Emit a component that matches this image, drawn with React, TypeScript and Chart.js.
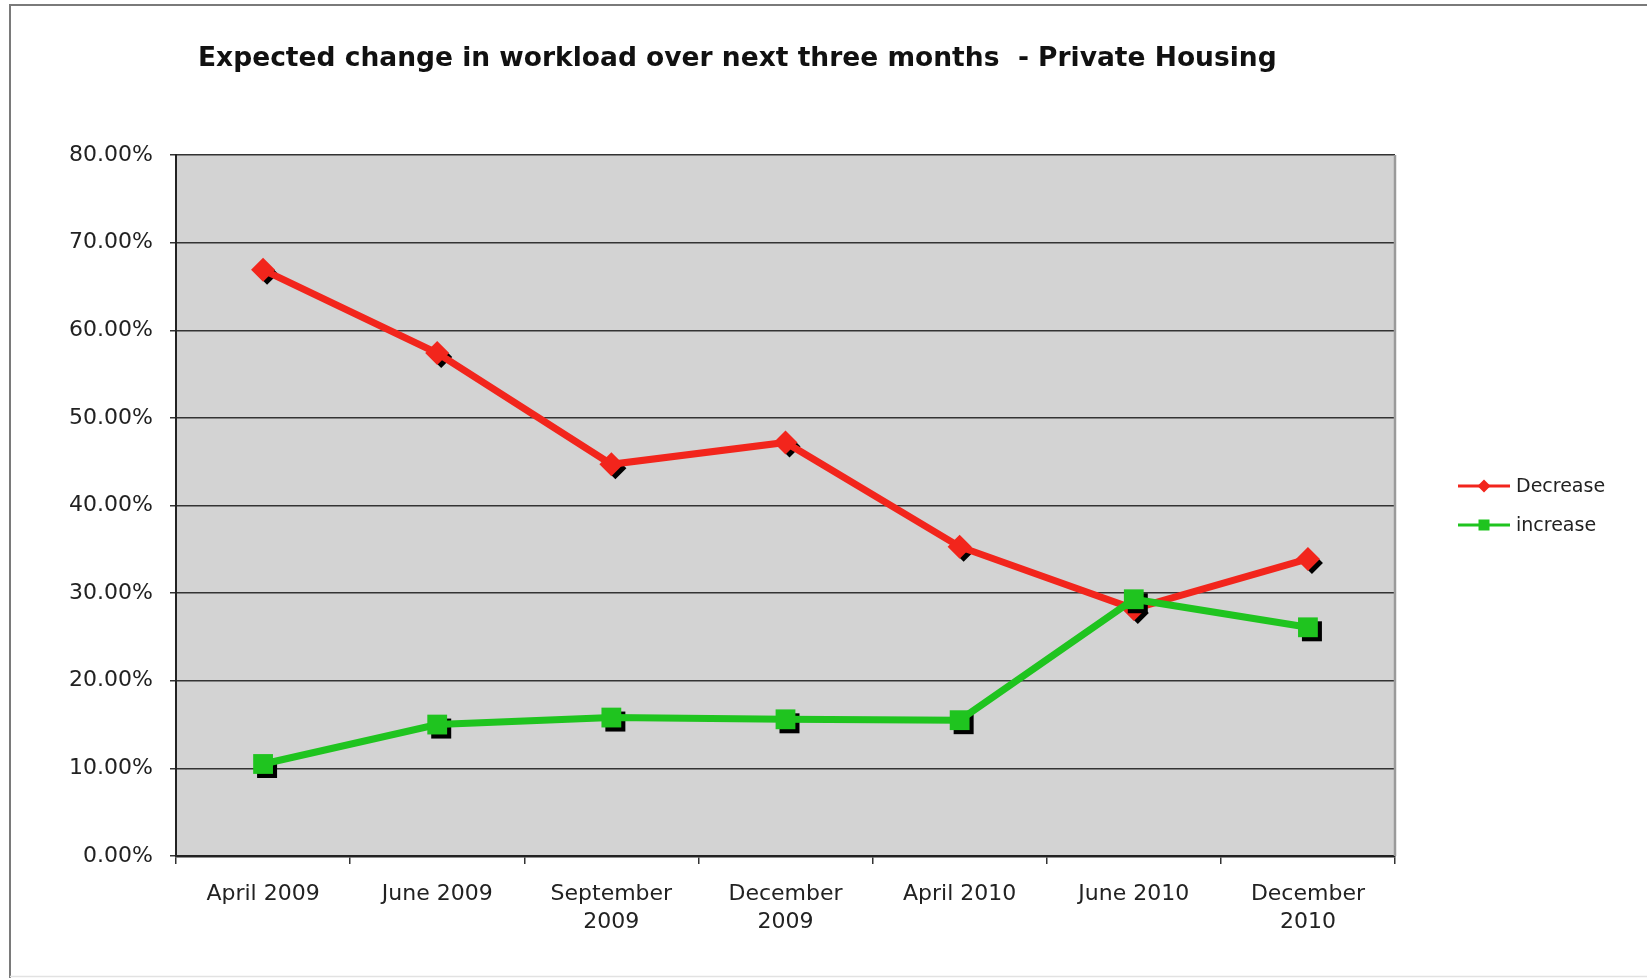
import React, { useEffect, useRef } from "react";
import { Chart, registerables } from "chart.js";

Chart.register(...registerables);

const TITLE = "Expected change in workload over next three months  - Private Housing";
const categories: (string | string[])[] = [
  "April 2009",
  "June 2009",
  ["September", "2009"],
  ["December", "2009"],
  "April 2010",
  "June 2010",
  ["December", "2010"],
];
const decreaseValues = [66.9, 57.4, 44.7, 47.2, 35.3, 28.2, 33.9];
const increaseValues = [10.5, 15.0, 15.8, 15.6, 15.5, 29.3, 26.1];
const yTickMin = 0;
const yTickMax = 80;
const yTickStep = 10;

const RED = "#f2251c";
const GREEN = "#1fc41f";
const FONT = "'DejaVu Sans', Verdana, sans-serif";

function drawMarker(ctx: CanvasRenderingContext2D, style: string, x: number, y: number, r: number) {
  ctx.beginPath();
  if (style === "rectRot") {
    ctx.moveTo(x, y - r);
    ctx.lineTo(x + r, y);
    ctx.lineTo(x, y + r);
    ctx.lineTo(x - r, y);
    ctx.closePath();
  } else {
    ctx.rect(x - r, y - r, 2 * r, 2 * r);
  }
  ctx.fill();
}

const decorPlugin = {
  id: "decor",
  beforeDraw(chart: any) {
    const { ctx, chartArea, width, height } = chart;
    ctx.save();
    ctx.fillStyle = "#ffffff";
    ctx.fillRect(0, 0, width, height);
    ctx.strokeStyle = "#7a7a7a";
    ctx.lineWidth = 2;
    ctx.beginPath();
    ctx.moveTo(10, height);
    ctx.lineTo(10, 5);
    ctx.lineTo(width, 5);
    ctx.stroke();
    ctx.strokeStyle = "#e2e2e2";
    ctx.lineWidth = 1.5;
    ctx.beginPath();
    ctx.moveTo(10, height - 1.5);
    ctx.lineTo(width, height - 1.5);
    ctx.stroke();
    ctx.fillStyle = "#d3d3d3";
    ctx.fillRect(chartArea.left, chartArea.top, chartArea.right - chartArea.left, chartArea.bottom - chartArea.top);
    ctx.restore();
  },
  beforeDatasetsDraw(chart: any) {
    const { ctx, chartArea } = chart;
    ctx.save();
    ctx.strokeStyle = "#9a9a9a";
    ctx.lineWidth = 2.5;
    ctx.beginPath();
    ctx.moveTo(chartArea.right, chartArea.top);
    ctx.lineTo(chartArea.right, chartArea.bottom);
    ctx.stroke();
    ctx.restore();
  },
  beforeDatasetDraw(chart: any, args: any) {
    const { ctx } = chart;
    const meta = args.meta;
    const ds = chart.data.datasets[args.index];
    ctx.save();
    ctx.fillStyle = "#000000";
    const style = ds.pointStyle;
    const r = style === "rectRot" ? 11 : 10;
    meta.data.forEach((pt: any) => {
      drawMarker(ctx, style, pt.x + 4, pt.y + 4, r);
    });
    ctx.restore();
  },
  afterDraw(chart: any) {
    const { ctx } = chart;
    ctx.save();
    ctx.fillStyle = "#111111";
    ctx.font = `bold 26.5px ${FONT}`;
    ctx.textAlign = "left";
    ctx.textBaseline = "middle";
    ctx.fillText(TITLE, 198, 59);
    const items = chart.data.datasets.map((d: any) => d);
    const ys = [486, 525];
    items.forEach((d: any, i: number) => {
      const y = ys[i];
      ctx.strokeStyle = d.borderColor;
      ctx.lineWidth = 3;
      ctx.beginPath();
      ctx.moveTo(1458, y);
      ctx.lineTo(1510, y);
      ctx.stroke();
      ctx.fillStyle = d.borderColor;
      drawMarker(ctx, d.pointStyle, 1484, y, d.pointStyle === "rectRot" ? 6.5 : 5.5);
      ctx.fillStyle = "#222222";
      ctx.font = `19px ${FONT}`;
      ctx.textAlign = "left";
      ctx.textBaseline = "middle";
      ctx.fillText(d.label, 1516, y + 1);
    });
    ctx.restore();
  },
};

export default function App() {
  const ref = useRef<HTMLCanvasElement | null>(null);
  useEffect(() => {
    if (!ref.current) return;
    const chart = new Chart(ref.current, {
      type: "line",
      data: {
        labels: categories,
        datasets: [
          {
            label: "Decrease",
            data: decreaseValues,
            borderColor: RED,
            backgroundColor: RED,
            borderWidth: 7,
            pointStyle: "rectRot",
            pointRadius: 12,
            pointHoverRadius: 12,
            pointBorderWidth: 0,
            tension: 0,
            order: 1,
          },
          {
            label: "increase",
            data: increaseValues,
            borderColor: GREEN,
            backgroundColor: GREEN,
            borderWidth: 7,
            pointStyle: "rect",
            pointRadius: 14,
            pointHoverRadius: 14,
            pointBorderWidth: 0,
            tension: 0,
            order: 0,
          },
        ],
      },
      options: {
        responsive: false,
        animation: false,
        events: [],
        layout: { padding: { left: 0, right: 252, top: 155, bottom: 0 } },
        plugins: {
          legend: { display: false },
          title: { display: false },
          tooltip: { enabled: false },
        },
        scales: {
          x: {
            offset: true,
            grid: {
              offset: true,
              drawOnChartArea: false,
              drawTicks: true,
              tickLength: 8,
              color: "#333333",
              lineWidth: 1.5,
            },
            border: { display: true, color: "#222222", width: 2.5 },
            ticks: {
              color: "#222222",
              font: { family: FONT, size: 22, lineHeight: 1.25 },
              padding: 17,
              maxRotation: 0,
              autoSkip: false,
            },
            afterFit(scale: any) {
              scale.height = 122;
            },
          },
          y: {
            min: yTickMin,
            max: yTickMax,
            ticks: {
              stepSize: yTickStep,
              color: "#222222",
              font: { family: FONT, size: 22 },
              padding: 17,
              callback: (v: any) => Number(v).toFixed(2) + "%",
            },
            grid: {
              color: "#333333",
              lineWidth: 1.5,
              tickLength: 6,
            },
            border: { display: true, color: "#222222", width: 2 },
            afterFit(scale: any) {
              scale.width = 176;
            },
          },
        },
      },
      plugins: [decorPlugin],
    });
    return () => chart.destroy();
  }, []);
  return (
    <div style={{ position: "absolute", left: 0, top: 0, width: 1647, height: 978 }}>
      <canvas ref={ref} width={1647} height={978} style={{ display: "block" }} />
    </div>
  );
}
